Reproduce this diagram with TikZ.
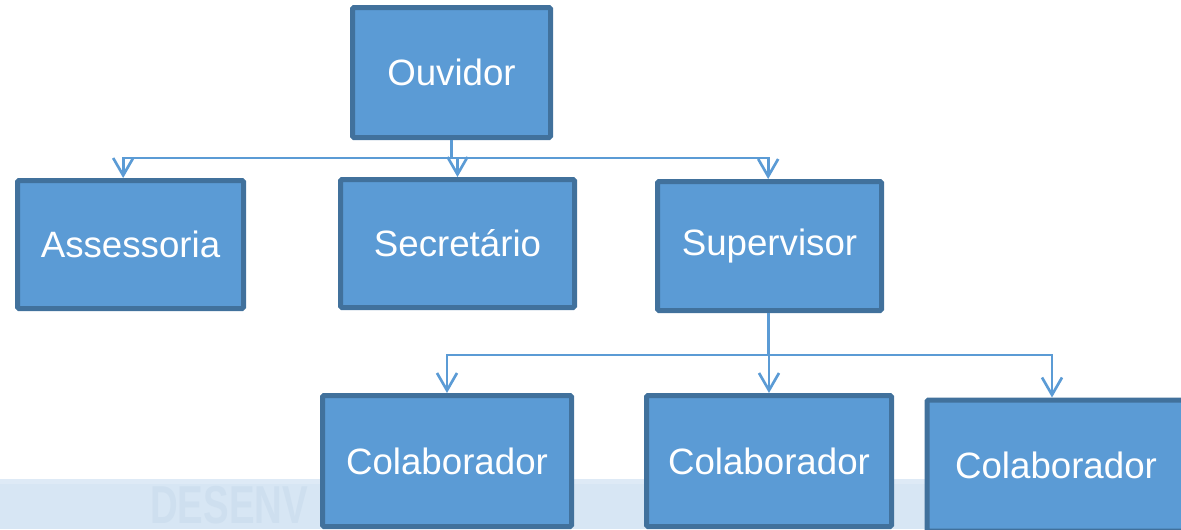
\documentclass[tikz,border=0pt]{standalone}
\usepackage{fontspec}
\setmainfont{Liberation Sans}
\usetikzlibrary{arrows.meta}
\definecolor{boxfill}{HTML}{5B9BD5}
\definecolor{boxline}{HTML}{41719C}
\definecolor{band}{HTML}{D7E6F4}
\definecolor{bandtop}{HTML}{DEEAF6}
\definecolor{wmark}{HTML}{CEDFEF}
\tikzset{
  orgbox/.style={draw=boxline, fill=boxfill, line width=3.75pt, text=white,
    font=\fontsize{27.5}{30}\selectfont, inner sep=0pt, align=center, rounded corners=1pt},
  conn/.style={draw=boxfill, line width=2.2pt},
  tiparrow/.style={conn, -{Straight Barb[length=13pt,width=15pt,line width=2pt]}},
}
\begin{document}
\begin{tikzpicture}[x=0.75pt,y=-0.75pt]
\useasboundingbox (0,0) rectangle (1181,529);
\begin{scope}
\clip (0,0) rectangle (1181,529);
% background band
\fill[band] (0,479) rectangle (1181,529);
\fill[bandtop] (0,479) rectangle (1181,484);
\node[text=wmark, font=\bfseries\fontsize{40}{40}\selectfont, xscale=0.72, anchor=west, inner sep=0pt] (wm) at (150,505) {DESENV};
% boxes
\node[orgbox, minimum width=198*0.75pt, minimum height=130*0.75pt] (ouv) at (451.5,72.5) {Ouvidor};
\node[orgbox, minimum width=226*0.75pt, minimum height=128*0.75pt] (ass) at (130.5,244.5) {Assessoria};
\node[orgbox, minimum width=234*0.75pt, minimum height=128*0.75pt] (sec) at (457.5,243.5) {Secretário};
\node[orgbox, minimum width=224*0.75pt, minimum height=129*0.75pt] (sup) at (769.5,246) {Supervisor};
\node[orgbox, minimum width=249*0.75pt, minimum height=131*0.75pt] (colA) at (447,461) {Colaborador};
\node[orgbox, minimum width=245*0.75pt, minimum height=131*0.75pt] (colB) at (769,461) {Colaborador};
\node[orgbox, minimum width=258*0.75pt, minimum height=131*0.75pt] (colC) at (1056,465.5) {Colaborador};
% connectors top
\draw[conn] (ouv.south) -- ++(0,18) coordinate (jtop);
\draw[tiparrow] (jtop) -| ([xshift=-5.5pt]ass.north);
\draw[tiparrow] (jtop) -| (sec.north);
\draw[tiparrow] (jtop) -| ([xshift=-1pt]sup.north);
% connectors bottom
\draw[conn] ([xshift=-1pt]sup.south) -- ++(0,42) coordinate (jbot);
\draw[tiparrow] (jbot) -| (colA.north);
\draw[tiparrow] (jbot) -| (colB.north);
\draw[tiparrow] (jbot) -| ([xshift=-3pt]colC.north);
\end{scope}
\end{tikzpicture}
\end{document}
